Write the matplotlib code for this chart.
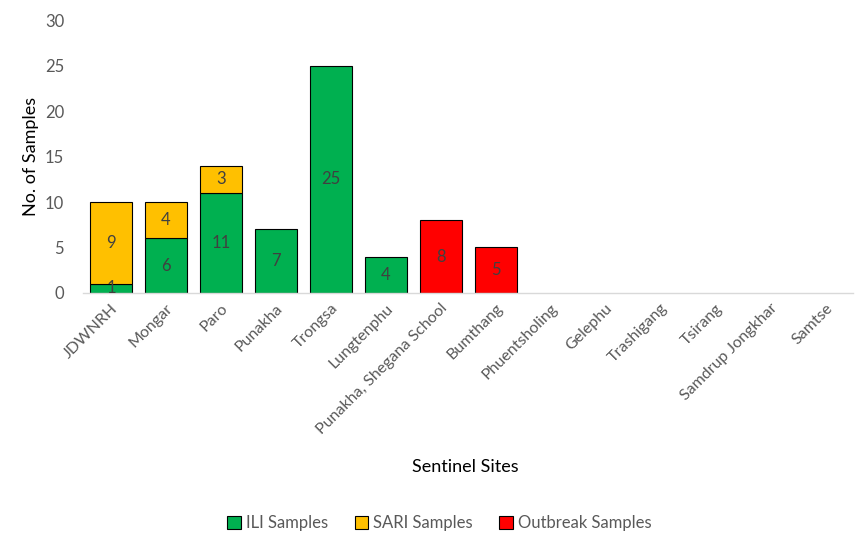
import matplotlib
matplotlib.use("Agg")
import matplotlib.pyplot as plt
import numpy as np

sites = ["JDWNRH", "Mongar", "Paro", "Punakha", "Trongsa", "Lungtenphu",
         "Punakha, Shegana School", "Bumthang", "Phuentsholing", "Gelephu",
         "Trashigang", "Tsirang", "Samdrup Jongkhar", "Samtse"]
ili = [1, 6, 11, 7, 25, 4, 0, 0, 0, 0, 0, 0, 0, 0]
sari = [9, 4, 3, 0, 0, 0, 0, 0, 0, 0, 0, 0, 0, 0]
outbreak = [0, 0, 0, 0, 0, 0, 8, 5, 0, 0, 0, 0, 0, 0]

plt.rcParams['font.family'] = ['Lato', 'DejaVu Sans']

fig = plt.figure(figsize=(8.58, 5.38), dpi=100)
ax = fig.add_axes([0.0973, 0.4554, 0.8967, 0.5074])

x = np.arange(len(sites))
w = 0.76
green, yellow, red = "#00B050", "#FFC000", "#FF0000"
ili_a = np.array(ili); sari_a = np.array(sari); out_a = np.array(outbreak)

def lw(v):
    return [0.8 if vi > 0 else 0 for vi in v]

b1 = ax.bar(x, ili_a, w, color=green, edgecolor="black", linewidth=lw(ili_a), label="ILI Samples")
b2 = ax.bar(x, sari_a, w, bottom=ili_a, color=yellow, edgecolor="black", linewidth=lw(sari_a), label="SARI Samples")
b3 = ax.bar(x, out_a, w, bottom=ili_a + sari_a, color=red, edgecolor="black", linewidth=lw(out_a), label="Outbreak Samples")

lab_col = "#404040"
for vals, bottoms in [(ili_a, np.zeros_like(ili_a)), (sari_a, ili_a), (out_a, ili_a + sari_a)]:
    for xi, v, b in zip(x, vals, bottoms):
        if v > 0:
            ax.text(xi, b + v / 2, str(v), ha="center", va="center", fontsize=12, color=lab_col)

ax.set_xlim(-0.5, len(sites) - 0.5)
ax.set_ylim(0, 30)
ax.set_yticks(range(0, 31, 5))
ax.set_xticks(x)
ax.set_xticklabels(sites, rotation=45, ha="right", rotation_mode="anchor", fontsize=11.5, color="#595959")
ax.tick_params(axis="y", labelsize=12, colors="#595959", length=0, pad=14)
ax.tick_params(axis="x", length=0, pad=6)
for s in ["top", "right", "left"]:
    ax.spines[s].set_visible(False)
ax.spines["bottom"].set_color("#D9D9D9")
ax.spines["bottom"].set_linewidth(1)

ax.set_ylabel("No. of Samples", fontsize=13, color="black", labelpad=4)
fig.text(0.542, 1 - 467 / 538, "Sentinel Sites", ha="center", va="center", fontsize=13, color="black")

handles = [b1, b2, b3]
leg = fig.legend(handles, [h.get_label() for h in handles], loc="center", bbox_to_anchor=(0.512, 1 - 523 / 538),
           ncol=3, frameon=False, fontsize=12, handlelength=0.8, handleheight=0.8, handletextpad=0.3,
           columnspacing=1.6, labelcolor="#595959")
for h in leg.legend_handles:
    h.set_linewidth(0.8)

fig.savefig("out.png", dpi=100)
